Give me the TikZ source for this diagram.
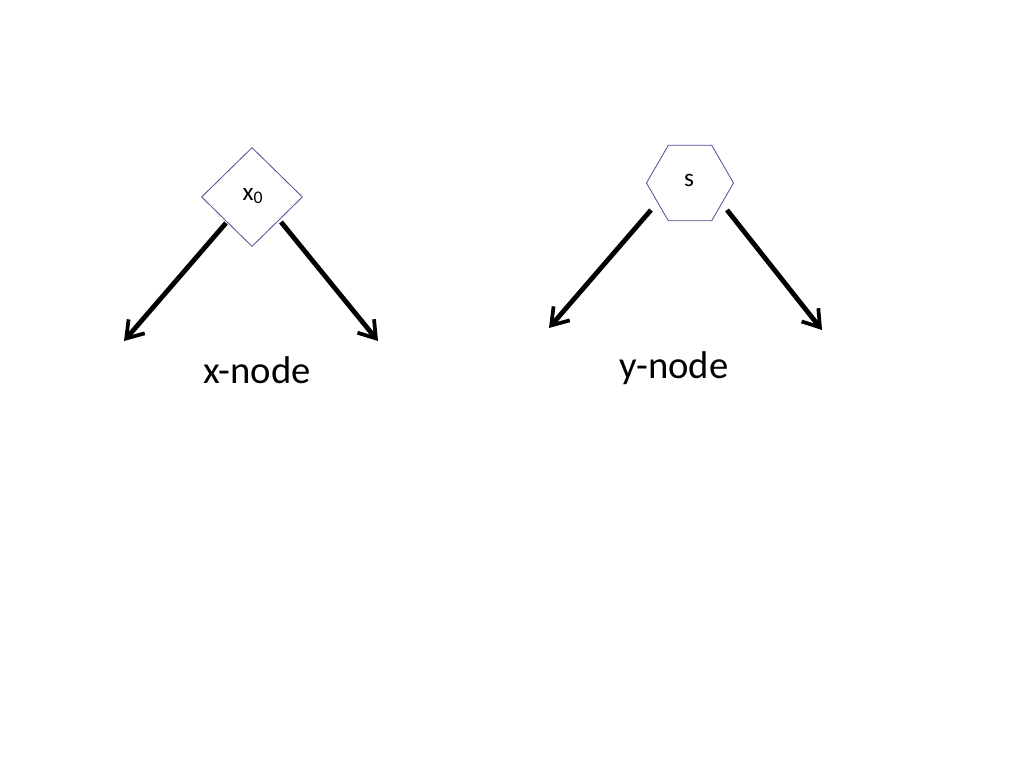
\documentclass[tikz,border=0pt]{standalone}
\usepackage{fontspec}
\setmainfont{Carlito}
\usetikzlibrary{arrows.meta,shapes.geometric}
\begin{document}
\begin{tikzpicture}[x=0.75pt,y=-0.75pt,
  shp/.style={draw=black!30!blue!40!gray,line width=0.6pt,inner sep=0pt,fill=white},
  arr/.style={line width=3.6pt,-{Straight Barb[length=12pt,width=16pt,line width=2.8pt]}},
  lbl/.style={font=\fontsize{29}{34}\selectfont}]
\useasboundingbox (0,0) rectangle (1024,768);
\node[shp,diamond,minimum width=101*0.75pt,minimum height=99*0.75pt] (d) at (252,197) {};
\node[font=\fontsize{19}{22}\selectfont] (dt) at (253,196) {x$_{\mathrm{0}}$};
\node[shp,regular polygon,regular polygon sides=6,minimum size=87*0.75pt] (h) at (690,183) {};
\node[font=\fontsize{19}{22}\selectfont] (ht) at (689,180) {s};
\coordinate (a1) at (226,223); \coordinate (b1) at (124,341);
\coordinate (a2) at (281,222); \coordinate (b2) at (378,341);
\coordinate (a3) at (651,210); \coordinate (b3) at (549,328);
\coordinate (a4) at (727,210); \coordinate (b4) at (822,330);
\draw[arr] (a1) -- (b1);
\draw[arr] (a2) -- (b2);
\draw[arr] (a3) -- (b3);
\draw[arr] (a4) -- (b4);
\node[lbl] (xl) at (257,370) {x-node};
\node[lbl] (yl) at (674,368) {y-node};
\end{tikzpicture}
\end{document}
